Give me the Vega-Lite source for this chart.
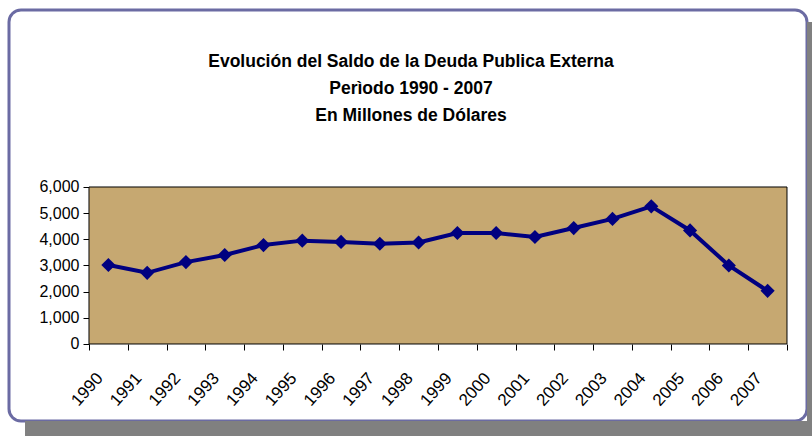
{
  "$schema": "https://vega.github.io/schema/vega-lite/v6.json",
  "width": 798,
  "height": 411,
  "autosize": {"type": "none"},
  "padding": {"left": 9, "top": 10, "right": 5, "bottom": 15},
  "background": "white",
  "config": {"view": {"fill": "white", "stroke": "#6b6ba3", "strokeWidth": 3, "cornerRadius": 12}},
  "title": {
    "text": ["Evolución del Saldo de la Deuda Publica Externa", "Perìodo 1990 - 2007", "En Millones de Dólares"],
    "font": "Liberation Sans",
    "fontSize": 17.5,
    "fontWeight": "bold",
    "color": "black",
    "lineHeight": 27,
    "anchor": "middle",
    "frame": "group",
    "baseline": "top",
    "offset": -114,
    "dx": 3
  },
  "layer": [
    {
      "data": {"values": [{"part": "shadow-bottom"}]},
      "mark": {"type": "rect", "fill": "#808080"},
      "encoding": {
        "x": {"datum": 1987.85, "type": "quantitative", "scale": {"domain": [1987.437, 2008.016], "nice": false, "zero": false}},
        "x2": {"datum": 2008.145},
        "y": {"datum": -3516, "type": "quantitative", "scale": {"domain": [-2943, 12764], "nice": false, "zero": false}},
        "y2": {"datum": -2943}
      }
    },
    {
      "data": {"values": [{"part": "shadow-right"}]},
      "mark": {"type": "rect", "fill": "#808080"},
      "encoding": {
        "x": {"datum": 2008.016, "type": "quantitative", "scale": {"domain": [1987.437, 2008.016], "nice": false, "zero": false}},
        "x2": {"datum": 2008.145},
        "y": {"datum": -3516, "type": "quantitative", "scale": {"domain": [-2943, 12764], "nice": false, "zero": false}},
        "y2": {"datum": 12305}
      }
    },
    {
      "data": {"values": [{"part": "plot"}]},
      "mark": {"type": "rect", "fill": "#c6a871", "stroke": "black", "strokeWidth": 1},
      "encoding": {
        "x": {"datum": 1989.5, "type": "quantitative", "scale": {"domain": [1987.437, 2008.016], "nice": false, "zero": false}},
        "x2": {"datum": 2007.5},
        "y": {"datum": 0, "type": "quantitative", "scale": {"domain": [-2943, 12764], "nice": false, "zero": false}},
        "y2": {"datum": 6000}
      }
    },
    {
      "data": {"values": [
        {"year": 1990, "saldo": 3020},
        {"year": 1991, "saldo": 2720},
        {"year": 1992, "saldo": 3130},
        {"year": 1993, "saldo": 3400},
        {"year": 1994, "saldo": 3780},
        {"year": 1995, "saldo": 3950},
        {"year": 1996, "saldo": 3900},
        {"year": 1997, "saldo": 3830},
        {"year": 1998, "saldo": 3880},
        {"year": 1999, "saldo": 4240},
        {"year": 2000, "saldo": 4240},
        {"year": 2001, "saldo": 4090},
        {"year": 2002, "saldo": 4430},
        {"year": 2003, "saldo": 4780},
        {"year": 2004, "saldo": 5260},
        {"year": 2005, "saldo": 4340},
        {"year": 2006, "saldo": 3000},
        {"year": 2007, "saldo": 2030}
      ]},
      "mark": {"type": "line", "color": "#000080", "strokeWidth": 4, "point": {"shape": "diamond", "size": 200, "filled": true, "color": "#000080"}},
      "encoding": {
        "x": {
          "field": "year", "type": "quantitative",
          "scale": {"domain": [1987.437, 2008.016], "nice": false, "zero": false},
          "axis": {
            "values": [1990, 1991, 1992, 1993, 1994, 1995, 1996, 1997, 1998, 1999, 2000, 2001, 2002, 2003, 2004, 2005, 2006, 2007, 2008],
            "labelExpr": "datum.value <= 2007 ? '' + datum.value : ''",
            "tickOffset": -19.39,
            "labelOffset": 10.5,
            "tickColor": "black",
            "tickSize": 6,
            "domain": false,
            "grid": false,
            "offset": -77,
            "labelAngle": -48,
            "labelAlign": "right",
            "labelBaseline": "middle",
            "labelPadding": 25,
            "labelFont": "Liberation Sans",
            "labelFontSize": 17,
            "labelColor": "black",
            "labelOverlap": false,
            "labelFlush": false,
            "title": null
          }
        },
        "y": {
          "field": "saldo", "type": "quantitative",
          "scale": {"domain": [-2943, 12764], "nice": false, "zero": false},
          "axis": {
            "values": [0, 1000, 2000, 3000, 4000, 5000, 6000],
            "labelExpr": "format(datum.value, ',')",
            "offset": -80,
            "tickSize": 6,
            "tickColor": "black",
            "domain": false,
            "grid": false,
            "labelFont": "Liberation Sans",
            "labelFontSize": 16,
            "labelColor": "black",
            "labelPadding": 4,
            "labelOverlap": false,
            "labelFlush": false,
            "title": null
          }
        }
      }
    }
  ]
}
